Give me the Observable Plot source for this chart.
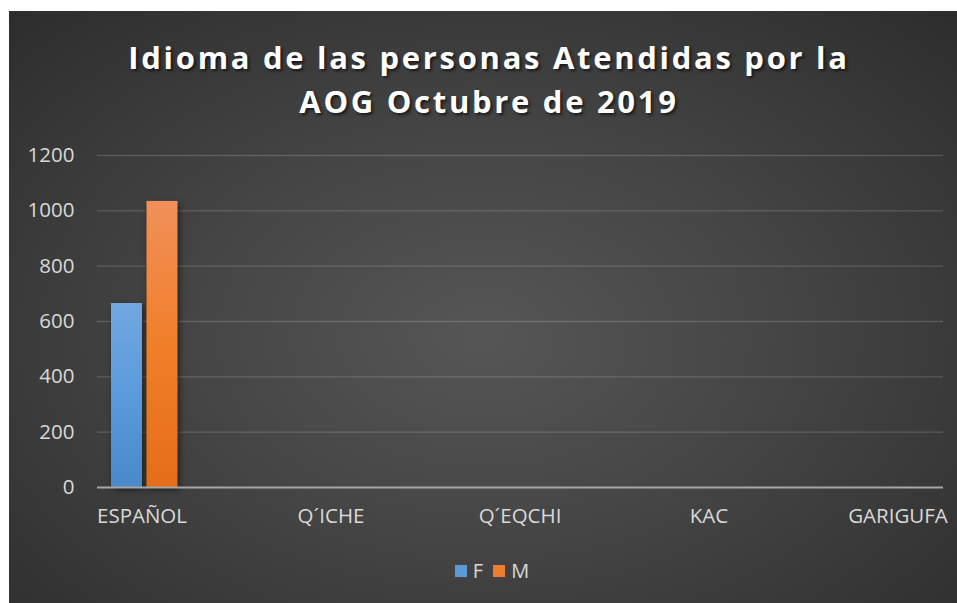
<!DOCTYPE html>
<html>
<head>
<meta charset="utf-8">
<script src="https://cdn.jsdelivr.net/npm/d3@7"></script>
<script src="https://cdn.jsdelivr.net/npm/@observablehq/plot@0.6"></script>
<style>
  html, body { margin: 0; padding: 0; background: #ffffff; }
  #chart {
    position: absolute; left: 9px; top: 11px; width: 948px; height: 592px;
    background: radial-gradient(ellipse 70% 75% at 50% 55%, #565656 0%, #454545 45%, #2e2e2e 100%);
    overflow: hidden;
    font-family: "Open Sans", "Noto Sans", sans-serif;
  }
  #title {
    position: absolute; left: 0; top: 24px; width: 948px; text-align: center;
    color: #ffffff; font-weight: 700; font-size: 31px; line-height: 44px;
    letter-spacing: 2.7px; text-shadow: 2px 2px 3px rgba(0,0,0,0.6);
    padding-left: 12px; box-sizing: border-box;
  }
  #plot { position: absolute; left: 0; top: 108px; }
  #legend {
    position: absolute; top: 546px; left: 0; width: 948px; display: flex; justify-content: center;
    gap: 10px; color: #d9d9d9; font-size: 20px; padding-left: 18px; box-sizing: border-box;
  }
  #legend span.item { display: inline-flex; align-items: center; gap: 6px; }
  #legend span.sw { display: inline-block; width: 12px; height: 12px; }
</style>
</head>
<body>
<div id="chart">
  <div id="title">Idioma de las personas Atendidas por la<br>AOG Octubre de 2019</div>
  <div id="plot"></div>
  <div id="legend"></div>
</div>
<script>
const categories = ["ESPAÑOL", "Q´ICHE", "Q´EQCHI", "KAC", "GARIGUFA"];
const seriesF = [665, 0, 0, 0, 0];
const seriesM = [1034, 0, 0, 0, 0];
const yTicks = [0, 200, 400, 600, 800, 1000, 1200];
const seriesNames = ["F", "M"];
const seriesColors = ["#5b9bd5", "#ed7d31"];

const rowsF = categories.map((c, i) => ({cat: c, value: seriesF[i]}));
const rowsM = categories.map((c, i) => ({cat: c, value: seriesM[i]}));

const W = 948, H = 440;
const plot = Plot.plot({
  width: W,
  height: H,
  marginTop: 36,
  marginLeft: 88,
  marginRight: 14,
  marginBottom: 72,
  style: {background: "transparent", color: "#d9d9d9", fontSize: "20.5px", fontFamily: "'Open Sans', 'Noto Sans', sans-serif"},
  x: {domain: categories, range: [38, 983], padding: 0, label: null},
  y: {domain: [0, 1200], ticks: yTicks, label: null},
  marks: [
    Plot.ruleY(yTicks.filter(d => d > 0), {stroke: "#ffffff", strokeOpacity: 0.16, strokeWidth: 1.3}),
    Plot.barY(rowsF, {x: "cat", y: "value", fill: "url(#gradF)", insetLeft: 79, insetRight: 79, dx: -15, filter: d => d.value > 0}),
    Plot.barY(rowsM, {x: "cat", y: "value", fill: "url(#gradM)", insetLeft: 79, insetRight: 79, dx: 20.5, filter: d => d.value > 0}),
    Plot.ruleY([0], {stroke: "#a6a6a6", strokeWidth: 2.2}),
    Plot.axisY({ticks: yTicks, tickSize: 0, tickPadding: 23, tickFormat: d => String(d), fill: "#d9d9d9", label: null}),
    Plot.axisX({tickSize: 0, tickPadding: 21, fill: "#d9d9d9", label: null})
  ]
});

// gradients for the bars
const svgNS = "http://www.w3.org/2000/svg";
const defs = document.createElementNS(svgNS, "defs");
defs.innerHTML = `
  <linearGradient id="gradF" x1="0" y1="0" x2="0" y2="1">
    <stop offset="0" stop-color="#72a7df"/>
    <stop offset="0.5" stop-color="#5b9bdb"/>
    <stop offset="1" stop-color="#4a89c9"/>
  </linearGradient>
  <linearGradient id="gradM" x1="0" y1="0" x2="0" y2="1">
    <stop offset="0" stop-color="#f1905a"/>
    <stop offset="0.5" stop-color="#f17f2a"/>
    <stop offset="1" stop-color="#e56d1a"/>
  </linearGradient>`;
plot.insertBefore(defs, plot.firstChild);
plot.querySelectorAll("rect").forEach(r => r.style.filter = "drop-shadow(2px 3px 3px rgba(0,0,0,0.5))");
document.getElementById("plot").appendChild(plot);

const legend = document.getElementById("legend");
seriesNames.forEach((n, i) => {
  const item = document.createElement("span");
  item.className = "item";
  item.innerHTML = `<span class="sw" style="background:${seriesColors[i]}"></span><span>${n}</span>`;
  legend.appendChild(item);
});
</script>
</body>
</html>
